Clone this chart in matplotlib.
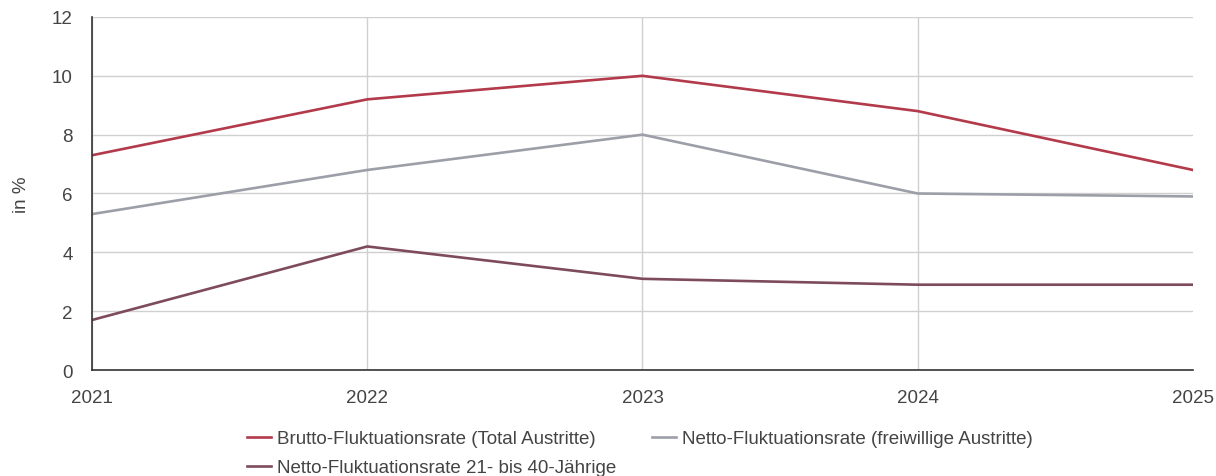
import matplotlib
matplotlib.use('Agg')
import matplotlib.pyplot as plt

plt.rcParams['font.family'] = ['Liberation Sans', 'DejaVu Sans']

years = ['2021', '2022', '2023', '2024', '2025']
brutto = [7.3, 9.2, 10.0, 8.8, 6.8]
netto = [5.3, 6.8, 8.0, 6.0, 5.9]
netto_jung = [1.7, 4.2, 3.1, 2.9, 2.9]

labels = ['Brutto-Fluktuationsrate (Total Austritte)',
          'Netto-Fluktuationsrate (freiwillige Austritte)',
          'Netto-Fluktuationsrate 21- bis 40-Jährige']
colors = ['#b23a4b', '#9d9fa8', '#7d4b5c']

fig = plt.figure(figsize=(12.16, 4.77), dpi=100)
ax = fig.add_axes([0.0757, 0.2222, 0.9053, 0.7401])

x = range(len(years))
lines = []
for vals, lab, col in zip([brutto, netto, netto_jung], labels, colors):
    l, = ax.plot(x, vals, color=col, linewidth=1.9, label=lab)
    lines.append(l)

ax.set_xlim(0, len(years) - 1)
ax.set_ylim(0, 12)
ax.set_yticks(range(0, 13, 2))
ax.set_xticks(list(x))
ax.set_xticklabels(years)

ax.grid(True, color='#d0d0d0', linewidth=1)
ax.set_axisbelow(True)
ax.xaxis.get_gridlines()[-1].set_visible(False)
for s in ['top', 'right']:
    ax.spines[s].set_visible(False)
for s in ['left', 'bottom']:
    ax.spines[s].set_color('#333333')
    ax.spines[s].set_linewidth(1.2)

ax.tick_params(axis='both', length=0, labelsize=13.5, labelcolor='#444444')
ax.tick_params(axis='y', pad=14)
ax.tick_params(axis='x', pad=13.5)
ax.set_ylabel('in %', fontsize=13.5, color='#444444', labelpad=16)

# row-wise legend order
order = [0, 2, 1]
fig.legend([lines[i] for i in order], [labels[i] for i in order],
           loc='upper left', bbox_to_anchor=(0.203, 0.096), ncol=2, frameon=False,
           fontsize=13.5, handlelength=1.3, handletextpad=0.3, columnspacing=1.9,
           labelspacing=0.62, borderaxespad=0, borderpad=0, labelcolor='#444444')

fig.savefig('out.png', dpi=100)
